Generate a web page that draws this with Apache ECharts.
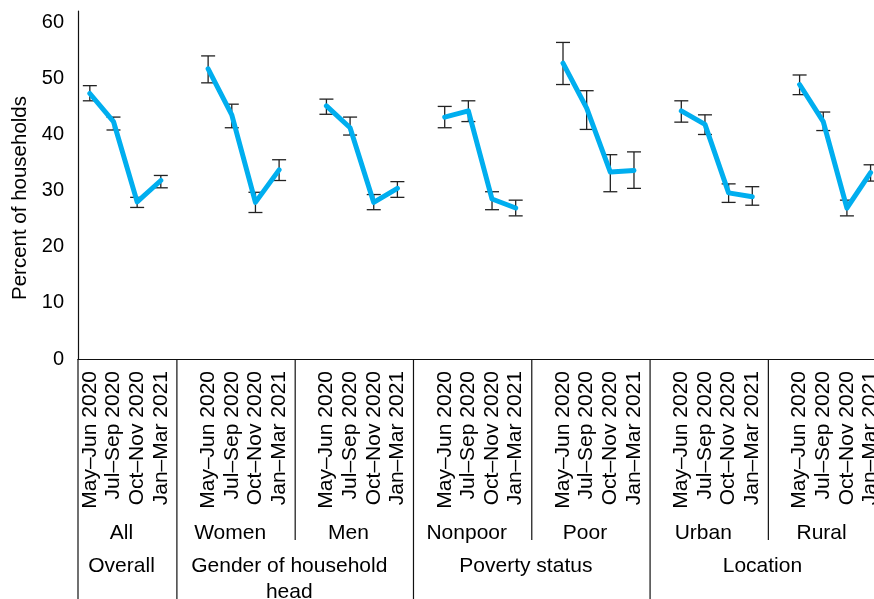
<!DOCTYPE html>
<html>
<head>
<meta charset="utf-8">
<script src="https://cdn.jsdelivr.net/npm/echarts@6/dist/echarts.min.js"></script>
<style>
  html, body { margin: 0; padding: 0; background: #fff; }
  #main { width: 874px; height: 599px; }
</style>
</head>
<body>
<div id="main"></div>
<script>
// Survey periods shown for each household group
const periods = ['May–Jun 2020', 'Jul–Sep 2020', 'Oct–Nov 2020', 'Jan–Mar 2021'];
// Household groups, in drawing order
const groupNames = ['All', 'Women', 'Men', 'Nonpoor', 'Poor', 'Urban', 'Rural'];
// Higher-level headings and how many groups each covers
const sectionNames = ['Overall', 'Gender of household\nhead', 'Poverty status', 'Location'];
const sectionGroupCounts = [1, 2, 2, 2];

// Percent of households: point estimates, one row per group
const estimate = [
  [47.3, 42.3, 28.0, 31.8],
  [51.7, 43.5, 27.9, 33.7],
  [45.1, 41.2, 27.9, 30.4],
  [43.1, 44.2, 28.5, 26.9],
  [52.7, 44.7, 33.3, 33.6],
  [44.2, 41.8, 29.6, 28.9],
  [48.9, 42.3, 26.9, 33.2]
];
// Lower bounds of the confidence intervals
const lowerCI = [
  [46.0, 40.8, 27.0, 30.5],
  [49.2, 41.2, 26.1, 31.8],
  [43.6, 39.9, 26.6, 28.8],
  [41.2, 42.3, 26.6, 25.5],
  [48.9, 40.9, 29.8, 30.4],
  [42.2, 40.0, 27.9, 27.4],
  [47.1, 40.7, 25.5, 31.7]
];
// Upper bounds of the confidence intervals
const upperCI = [
  [48.7, 43.1, 28.8, 32.7],
  [54.0, 45.4, 29.7, 35.5],
  [46.3, 43.1, 29.3, 31.6],
  [45.0, 46.0, 29.8, 28.3],
  [56.4, 47.8, 36.4, 36.9],
  [46.0, 43.5, 31.2, 30.7],
  [50.6, 44.0, 28.3, 34.6]
];

// Y axis tick values
const yTicks = [0, 10, 20, 30, 40, 50, 60];

const FONT = '"Liberation Sans", Arial, Helvetica, sans-serif';
const SLOTS_PER_GROUP = periods.length + 1; // one empty slot between groups

// Build the flat category axis: each group's periods followed by a blank slot
const categories = [];
const lineData = [];
const errorData = [];
groupNames.forEach((g, gi) => {
  periods.forEach((p, pi) => {
    const idx = categories.length;
    categories.push(p);
    lineData.push(estimate[gi][pi]);
    errorData.push([idx, lowerCI[gi][pi], upperCI[gi][pi]]);
  });
  if (gi < groupNames.length - 1) {
    categories.push('');
    lineData.push('-');
  }
});

const chart = echarts.init(document.getElementById('main'), null, { renderer: 'canvas' });

chart.setOption({
  animation: false,
  backgroundColor: '#ffffff',
  // The plot runs slightly past the right edge of the page
  grid: { left: 78, top: 11, width: 804.4, height: 348, containLabel: false, outerBoundsMode: 'none' },
  xAxis: {
    type: 'category',
    data: categories,
    boundaryGap: true,
    axisLine: { show: true, lineStyle: { color: '#111', width: 1.2 } },
    axisTick: { show: false },
    axisLabel: {
      interval: 0,
      rotate: 90,
      margin: 12,
      fontSize: 21,
      fontFamily: FONT,
      color: '#000',
      hideOverlap: false
    },
    splitLine: { show: false }
  },
  yAxis: {
    type: 'value',
    min: 0,
    max: 62,
    interval: 10,
    name: 'Percent of households',
    nameLocation: 'middle',
    nameGap: 40,
    nameRotate: 90,
    nameTextStyle: { fontSize: 20.5, fontFamily: FONT, color: '#000', padding: [0, 26, 0, 0] },
    axisLine: { show: true, lineStyle: { color: '#111', width: 1.2 } },
    axisTick: { show: false },
    splitLine: { show: false },
    axisLabel: {
      fontSize: 20,
      fontFamily: FONT,
      color: '#000',
      margin: 14,
      formatter: v => (yTicks.indexOf(v) >= 0 ? String(v) : '')
    }
  },
  series: [
    {
      // Confidence-interval whiskers
      type: 'custom',
      z: 2,
      data: errorData,
      renderItem: (params, api) => {
        const x = api.value(0);
        const lo = api.coord([x, api.value(1)]);
        const hi = api.coord([x, api.value(2)]);
        const half = 7;
        const style = { stroke: '#222', lineWidth: 1.3, fill: null };
        return {
          type: 'group',
          children: [
            { type: 'line', shape: { x1: lo[0], y1: lo[1], x2: hi[0], y2: hi[1] }, style },
            { type: 'line', shape: { x1: lo[0] - half, y1: lo[1], x2: lo[0] + half, y2: lo[1] }, style },
            { type: 'line', shape: { x1: hi[0] - half, y1: hi[1], x2: hi[0] + half, y2: hi[1] }, style }
          ]
        };
      }
    },
    {
      // Point estimates, broken between groups
      type: 'line',
      z: 3,
      data: lineData,
      connectNulls: false,
      showSymbol: false,
      symbol: 'none',
      lineStyle: { color: '#00AEEF', width: 5, cap: 'round', join: 'round' }
    }
  ]
});

// Multi-level category headings and separators, positioned from the x axis scale
function drawHeadings() {
  const px = i => chart.convertToPixel({ xAxisIndex: 0 }, i);
  const x0 = px(0);
  const step = px(1) - x0;
  const axisY = chart.convertToPixel({ yAxisIndex: 0 }, 0);
  const bottomY = 599;
  const shortY = 540;

  // Boundaries between groups (including the outer edges)
  const bounds = [x0 - step / 2];
  groupNames.forEach((g, gi) => {
    bounds.push(x0 + step * (gi * SLOTS_PER_GROUP + periods.length - 1 + 0.68));
  });

  // Which boundaries also end a section
  const sectionEnds = new Set();
  let acc = 0;
  sectionGroupCounts.forEach(n => { acc += n; sectionEnds.add(acc); });

  const elements = [];
  const lineStyle = { stroke: '#111', lineWidth: 1.2 };
  bounds.forEach((bx, bi) => {
    if (bi === bounds.length - 1) return; // last group runs past the edge
    const long = bi === 0 || sectionEnds.has(bi);
    elements.push({
      type: 'line',
      shape: { x1: bx, y1: axisY, x2: bx, y2: long ? bottomY : shortY },
      style: lineStyle,
      silent: true
    });
  });

  const textStyle = (text, x, y) => ({
    text, x, y,
    font: '21px ' + FONT,
    fill: '#000',
    align: 'center', textAlign: 'center',
    verticalAlign: 'top', textVerticalAlign: 'top',
    lineHeight: 26
  });

  // Group labels
  groupNames.forEach((g, gi) => {
    const cx = (bounds[gi] + bounds[gi + 1]) / 2 - step * 0.25;
    elements.push({ type: 'text', style: textStyle(g, cx, 520), silent: true });
  });

  // Section labels
  let start = 0;
  sectionNames.forEach((s, si) => {
    const end = start + sectionGroupCounts[si];
    const cx = (bounds[start] + bounds[end]) / 2 - step * 0.25;
    elements.push({ type: 'text', style: textStyle(s, cx, 553), silent: true });
    start = end;
  });

  chart.setOption({ graphic: { elements } });
}

drawHeadings();
</script>
</body>
</html>
